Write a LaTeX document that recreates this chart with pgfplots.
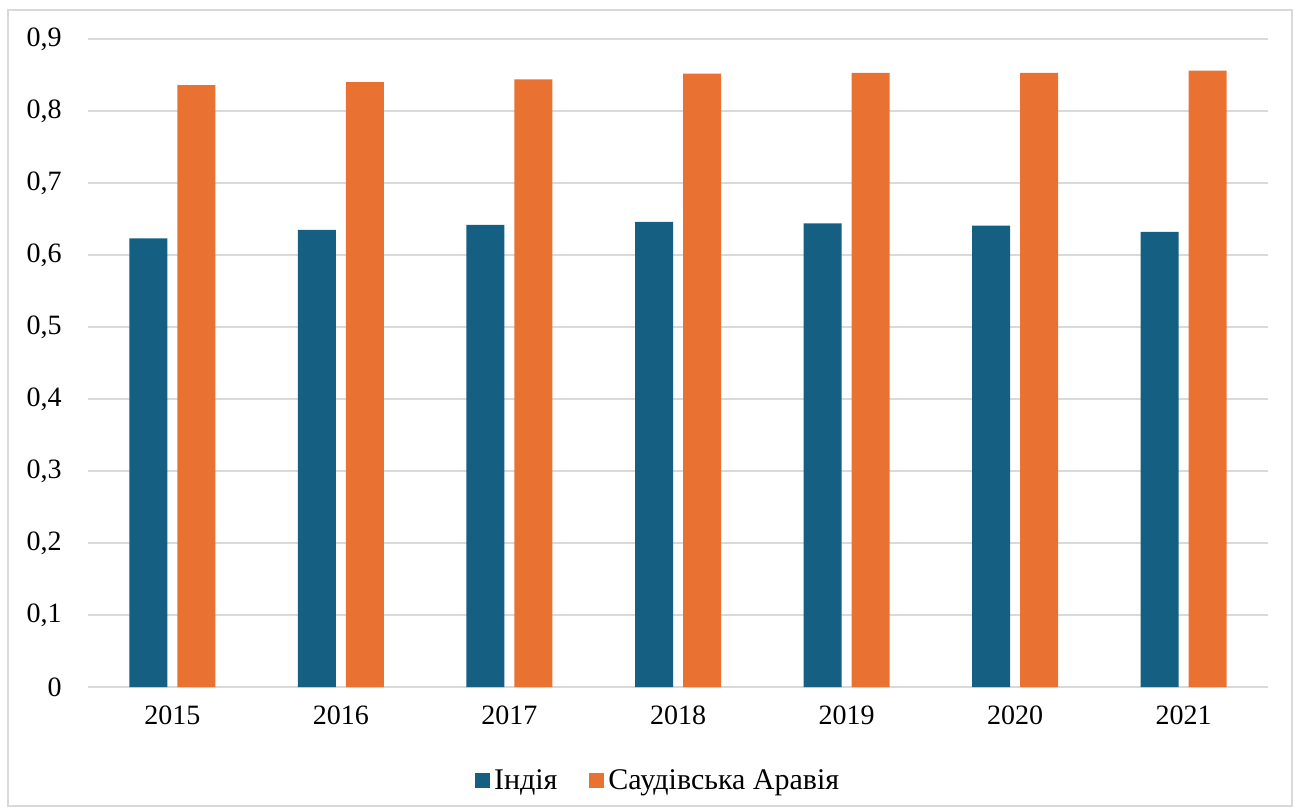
\documentclass[border=0pt]{standalone}
\usepackage{fontspec}
\setmainfont{Liberation Serif}
\newfontfamily\lser{Liberation Serif}
\usepackage{pgfplots}
\pgfplotsset{compat=1.18}
\definecolor{cblue}{HTML}{156082}
\definecolor{corange}{HTML}{E97132}
\definecolor{cgrid}{HTML}{D9D9D9}
\begin{document}
\begin{tikzpicture}
\path (0,0) rectangle (650pt,405.5pt);
\draw[cgrid, line width=0.8pt] (4pt,2.5pt) rectangle (646pt,400.5pt);
\begin{axis}[
  at={(44pt,62pt)}, anchor=south west,
  scale only axis, width=590pt, height=324pt,
  xmin=-0.5, xmax=6.5, ymin=0, ymax=0.9,
  ybar, bar width=19pt,
  xtick={0,1,2,3,4,5,6},
  xticklabels={2015,2016,2017,2018,2019,2020,2021},
  ytick={0,0.1,0.2,0.3,0.4,0.5,0.6,0.7,0.8,0.9},
  yticklabels={0,{0,1},{0,2},{0,3},{0,4},{0,5},{0,6},{0,7},{0,8},{0,9}},
  tick label style={font=\lser\fontsize{14}{16}\selectfont},
  yticklabel style={inner sep=0pt, xshift=-13pt},
  xticklabel style={inner sep=0pt, yshift=-9pt},
  major tick length=0pt,
  axis x line*=bottom, axis y line*=left,
  x axis line style={cgrid, line width=1pt, -},
  y axis line style={draw=none},
  ymajorgrids, grid style={cgrid, line width=1pt},
  legend style={at={(0.484,-0.145)}, anchor=center, draw=none, fill=none,
    font=\lser\fontsize{15}{17}\selectfont, legend columns=2,
    /tikz/every even column/.append style={column sep=14pt}},
  legend image code/.code={\fill[#1] (0pt,-3.75pt) rectangle (7.5pt,3.75pt);},
]
\addplot[fill=cblue, draw=none, bar shift=-12pt] coordinates {(0,0.623) (1,0.635) (2,0.642) (3,0.646) (4,0.644) (5,0.641) (6,0.632)};
\addplot[fill=corange, draw=none, bar shift=12pt] coordinates {(0,0.836) (1,0.840) (2,0.844) (3,0.852) (4,0.853) (5,0.853) (6,0.856)};
\legend{Індія, Саудівська Аравія}
\end{axis}
\end{tikzpicture}
\end{document}
